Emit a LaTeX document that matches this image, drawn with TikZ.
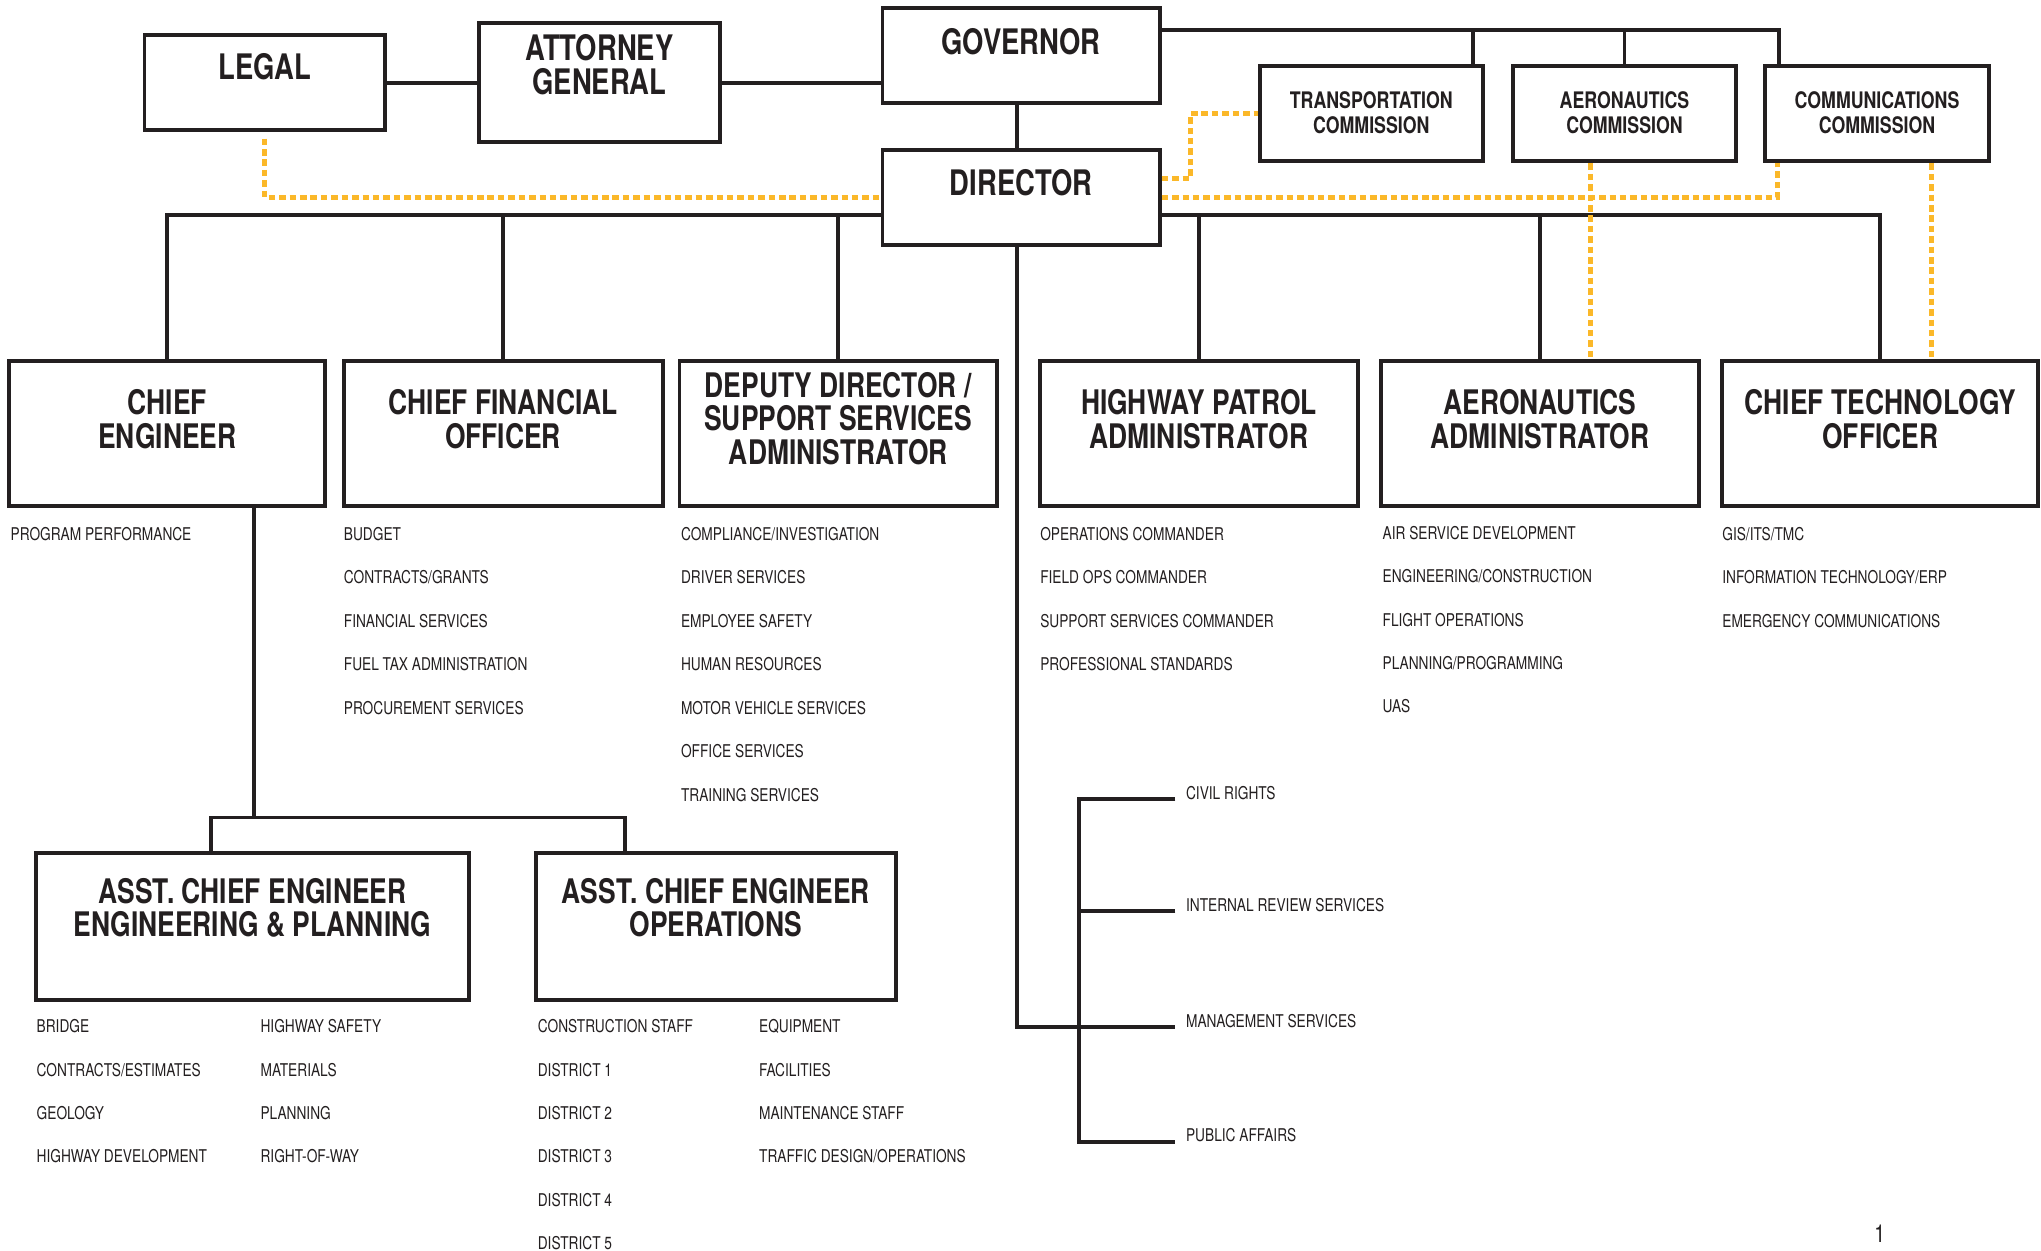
\documentclass[tikz,border=0pt]{standalone}
\usepackage{fontspec}
\setmainfont[FakeStretch=0.78]{TeX Gyre Heros}
\usetikzlibrary{fit}
\definecolor{ink}{RGB}{35,31,32}
\definecolor{gold}{RGB}{251,184,41}
\begin{document}
\begin{tikzpicture}[x=1pt,y=-1pt,
  orgbox/.style={draw=ink, line width=3pt, inner sep=0pt, fill=white},
  ttla/.style={font=\bfseries\fontsize{27}{26}\selectfont, align=center, inner sep=0pt, text=ink},
  ttlb/.style={font=\bfseries\fontsize{26}{25.5}\selectfont, align=center, inner sep=0pt, text=ink},
  ttlc/.style={font=\bfseries\fontsize{17.5}{19}\selectfont, align=center, inner sep=0pt, text=ink},
  item/.style={font=\fontsize{13.5}{33.35}\selectfont, align=left, anchor=north west, inner sep=0pt, text=ink},
  lbl/.style={font=\fontsize{13.5}{16}\selectfont, anchor=base west, inner sep=0pt, text=ink},
  conn/.style={draw=ink, line width=3pt},
  dl/.style={draw=gold, line width=3.8pt, dash pattern=on 5pt off 3pt}]
\fill[white] (0,0) rectangle (1568,961);
\useasboundingbox (0,0) rectangle (1568,961);

% ---------- top level boxes ----------
\node (legal) [orgbox, fit={(111,27)(296,100)}] {};
\node (ag)    [orgbox, fit={(368,18)(553,109)}] {};
\node (gov)   [orgbox, fit={(678,6)(891,79)}] {};
\node (dir)   [orgbox, fit={(678,115)(891,188)}] {};
\node (tc)    [orgbox, fit={(968,51)(1139,124)}] {};
\node (ac)    [orgbox, fit={(1162,51)(1334,124)}] {};
\node (cc)    [orgbox, fit={(1356,51)(1528,124)}] {};

\node (legalT) [ttla] at (203.5,51) {LEGAL};
\node (agT)    [ttla] at (460.5,50) {ATTORNEY\\GENERAL};
\node (govT)   [ttla] at (784.5,32) {GOVERNOR};
\node (dirT)   [ttla] at (784.5,140) {DIRECTOR};
\node (tcT) [ttlc] at (1053.5,86.5) {TRANSPORTATION\\COMMISSION};
\node (acT) [ttlc] at (1248,86.5) {AERONAUTICS\\COMMISSION};
\node (ccT) [ttlc] at (1442,86.5) {COMMUNICATIONS\\COMMISSION};

% ---------- second level boxes ----------
\node (ce)  [orgbox, fit={(7,277)(250,389)}] {};
\node (cfo) [orgbox, fit={(264,277)(509,389)}] {};
\node (dd)  [orgbox, fit={(522,277)(766,389)}] {};
\node (hp)  [orgbox, fit={(799,277)(1043,389)}] {};
\node (aa)  [orgbox, fit={(1061,277)(1305,389)}] {};
\node (cto) [orgbox, fit={(1323,277)(1566,389)}] {};

\node (ceT)  [ttlb] at (128.5,322) {CHIEF\\ENGINEER};
\node (cfoT) [ttlb] at (386.5,322) {CHIEF FINANCIAL\\OFFICER};
\node (ddT)  [ttlb] at (644,321.5) {DEPUTY DIRECTOR /\\SUPPORT SERVICES\\ADMINISTRATOR};
\node (hpT)  [ttlb] at (921,322) {HIGHWAY PATROL\\ADMINISTRATOR};
\node (aaT)  [ttlb] at (1183,322) {AERONAUTICS\\ADMINISTRATOR};
\node (ctoT) [ttlb] at (1444.5,322) {CHIEF TECHNOLOGY\\OFFICER};

% ---------- assistant chief engineers ----------
\node (acep) [orgbox, fit={(28,655)(360,768)}] {};
\node (aceo) [orgbox, fit={(412,655)(688,768)}] {};
\node (acepT) [ttlb] at (194,697.5) {ASST. CHIEF ENGINEER\\ENGINEERING \& PLANNING};
\node (aceoT) [ttlb] at (550,697.5) {ASST. CHIEF ENGINEER\\OPERATIONS};

% ---------- item lists ----------
\node (ceL)  [item] at (8,405) {PROGRAM PERFORMANCE};
\node (cfoL) [item] at (264,405) {BUDGET\\CONTRACTS/GRANTS\\FINANCIAL SERVICES\\FUEL TAX ADMINISTRATION\\PROCUREMENT SERVICES};
\node (ddL)  [item] at (523,405) {COMPLIANCE/INVESTIGATION\\DRIVER SERVICES\\EMPLOYEE SAFETY\\HUMAN RESOURCES\\MOTOR VEHICLE SERVICES\\OFFICE SERVICES\\TRAINING SERVICES};
\node (hpL)  [item] at (799,405) {OPERATIONS COMMANDER\\FIELD OPS COMMANDER\\SUPPORT SERVICES COMMANDER\\PROFESSIONAL STANDARDS};
\node (aaL)  [item] at (1062,404) {AIR SERVICE DEVELOPMENT\\ENGINEERING/CONSTRUCTION\\FLIGHT OPERATIONS\\PLANNING/PROGRAMMING\\UAS};
\node (ctoL) [item] at (1323,405) {GIS/ITS/TMC\\INFORMATION TECHNOLOGY/ERP\\EMERGENCY COMMUNICATIONS};
\node (acepL1) [item] at (28,783) {BRIDGE\\CONTRACTS/ESTIMATES\\GEOLOGY\\HIGHWAY DEVELOPMENT};
\node (acepL2) [item] at (200,783) {HIGHWAY SAFETY\\MATERIALS\\PLANNING\\RIGHT-OF-WAY};
\node (aceoL1) [item] at (413,783) {CONSTRUCTION STAFF\\DISTRICT 1\\DISTRICT 2\\DISTRICT 3\\DISTRICT 4\\DISTRICT 5};
\node (aceoL2) [item] at (583,783) {EQUIPMENT\\FACILITIES\\MAINTENANCE STAFF\\TRAFFIC DESIGN/OPERATIONS};

% ---------- staff offices ----------
\node (cr)  [lbl] at (911,614) {CIVIL RIGHTS};
\node (irs) [lbl] at (911,700) {INTERNAL REVIEW SERVICES};
\node (ms)  [lbl] at (911,789) {MANAGEMENT SERVICES};
\node (pa)  [lbl] at (911,877) {PUBLIC AFFAIRS};

\node (pg) [font=\fontsize{19}{21}\selectfont, inner sep=0pt, text=ink] at (1444,948) {1};

% ---------- black connectors ----------
\coordinate (gbus) at (1367,23);
\draw[conn] (legal.east) -- (ag.west |- legal.east);
\draw[conn] (ag.east |- legal.east) -- (gov.west |- legal.east);
\draw[conn] ([xshift=-3pt]gov.south) -- ([xshift=-3pt]dir.north);
\draw[conn] (gov.east |- gbus) -- (gbus) -- (gbus |- cc.north);
\draw[conn] ([xshift=-9pt]tc.north east) -- ([xshift=-9pt]tc.north east |- gbus);
\draw[conn] (ac.north) -- (ac.north |- gbus);

\coordinate (dbus) at (0,165);
\draw[conn] (ce.north) -- (ce.north |- dbus) -- (dir.west |- dbus);
\draw[conn] (cfo.north) -- (cfo.north |- dbus);
\draw[conn] (dd.north) -- (dd.north |- dbus);
\draw[conn] (dir.east |- dbus) -| (cto.north);
\draw[conn] (hp.north) -- (hp.north |- dbus);
\draw[conn] (aa.north) -- (aa.north |- dbus);

\coordinate (acebus) at (0,628);
\draw[conn] ([xshift=66.5pt]ce.south) -- ([xshift=66.5pt]ce.south |- acebus);
\draw[conn] ([xshift=-32pt]acep.north) |- ([xshift=-70pt]aceo.north |- acebus) -- ([xshift=-70pt]aceo.north);

\draw[conn] ([xshift=-3pt]dir.south) |- ([xshift=-8pt]ms.base west);
\draw[conn] ([xshift=-8pt]cr.base west) -- ++(-74,0) |- ([xshift=-8pt]pa.base west);
\draw[conn] ([xshift=-8pt]irs.base west) -- ++(-74,0);

% ---------- gold dashed connectors ----------
\draw[dl] ([yshift=-5pt]legal.south) |- (dir.west);
\draw[dl] (dir.east) -| ([xshift=11pt]cc.south west);
\draw[dl] ([yshift=14.5pt]dir.east) -- ++(22,0) |- (tc.west);
\draw[dl] ([xshift=-26pt]ac.south) -- ([xshift=-26pt]ac.south |- aa.north);
\draw[dl] ([xshift=42pt]cc.south) -- ([xshift=42pt]cc.south |- cto.north);
\end{tikzpicture}
\end{document}
